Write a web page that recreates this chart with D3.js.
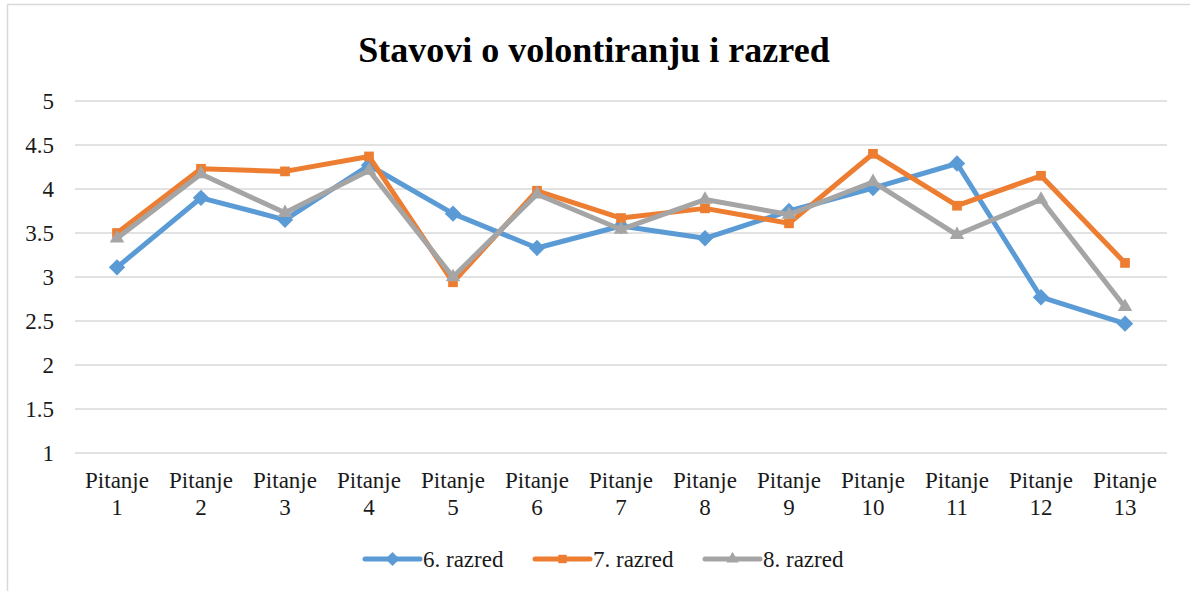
<!DOCTYPE html>
<html><head><meta charset="utf-8">
<script src="https://cdn.jsdelivr.net/npm/d3@7"></script>
<style>body{margin:0;background:#fff}</style>
</head><body><svg id="c" width="1190" height="591"></svg>
<script>
const title = "Stavovi o volontiranju i razred";
const categories = ["Pitanje 1","Pitanje 2","Pitanje 3","Pitanje 4","Pitanje 5","Pitanje 6","Pitanje 7","Pitanje 8","Pitanje 9","Pitanje 10","Pitanje 11","Pitanje 12","Pitanje 13"];
const seriesNames = ["6. razred","7. razred","8. razred"];
const razred6 = [3.11,3.90,3.65,4.27,3.72,3.33,3.58,3.44,3.75,4.01,4.29,2.77,2.47];
const razred7 = [3.50,4.23,4.20,4.37,2.94,3.98,3.67,3.78,3.61,4.40,3.81,4.15,3.16];
const razred8 = [3.44,4.17,3.73,4.21,3.00,3.94,3.54,3.88,3.71,4.08,3.48,3.88,2.66];
const yTicks = [1,1.5,2,2.5,3,3.5,4,4.5,5];

const FONT = "Liberation Serif";
const colors = ["#5B9BD5","#ED7D31","#A5A5A5"];
const symbols = [d3.symbolDiamond2, d3.symbolSquare2, d3.symbolTriangle2];
const data = [razred6, razred7, razred8];

const svg = d3.select("#c").attr("font-family", FONT);
svg.append("path").attr("d","M7.5,591 V4.5 H1190").attr("fill","none").attr("stroke","#D9D9D9").attr("stroke-width",1.5);

const x = d3.scaleBand().domain(categories).range([75,1167]);
const y = d3.scaleLinear().domain([1,5]).range([453,101]);

svg.append("text").attr("x",594).attr("y",62).attr("text-anchor","middle")
  .attr("font-family",FONT).attr("font-size",36).attr("font-weight","bold").text(title);

const grid = svg.append("g");
grid.selectAll("line").data(yTicks).join("line")
  .attr("x1",75).attr("x2",1167).attr("y1",d=>y(d)).attr("y2",d=>y(d))
  .attr("stroke","#D9D9D9").attr("stroke-width",1.5);

const yAxis = svg.append("g").attr("transform","translate(75,0)")
  .call(d3.axisLeft(y).tickValues(yTicks).tickFormat(d3.format("")).tickSize(0).tickPadding(21));
yAxis.attr("font-family",FONT).attr("font-size",23);
yAxis.select(".domain").remove();
yAxis.selectAll("text").attr("font-size",23).attr("fill","#1a1a1a").attr("font-family",FONT);

const xAxis = svg.append("g").attr("transform","translate(0,453)")
  .call(d3.axisBottom(x).tickSize(0).tickFormat(""));
xAxis.attr("font-family",FONT).attr("font-size",23);
xAxis.select(".domain").remove();
xAxis.selectAll(".tick").each(function(d){
  const parts = d.split(" ");
  const t = d3.select(this).append("text").attr("text-anchor","middle").attr("font-size",23)
    .attr("fill","#1a1a1a").attr("font-family",FONT);
  t.append("tspan").attr("x",0).attr("y",35).text(parts[0]);
  t.append("tspan").attr("x",0).attr("y",62).text(parts[1]);
});

const line = d3.line().x((d,i)=>x(categories[i])+x.bandwidth()/2).y(d=>y(d));
const symSizes = [170,120,150];
data.forEach((vals,k)=>{
  const g = svg.append("g");
  g.append("path").datum(vals).attr("d",line).attr("fill","none")
    .attr("stroke",colors[k]).attr("stroke-width",5).attr("stroke-linejoin","round");
  g.selectAll("path.m").data(vals).join("path").attr("class","m")
    .attr("transform",(d,i)=>`translate(${x(categories[i])+x.bandwidth()/2},${y(d)})`)
    .attr("d",d3.symbol().type(symbols[k]).size(symSizes[k])).attr("fill",colors[k]);
});

const legendX = [365,535,705];
const leg = svg.append("g");
seriesNames.forEach((n,k)=>{
  const g = leg.append("g").attr("transform",`translate(${legendX[k]},559)`);
  g.append("line").attr("x1",0).attr("x2",55).attr("stroke",colors[k]).attr("stroke-width",5).attr("stroke-linecap","round");
  g.append("path").attr("transform","translate(27.5,0)").attr("d",d3.symbol().type(symbols[k]).size(symSizes[k]*0.75)).attr("fill",colors[k]);
  g.append("text").attr("x",58).attr("y",8).attr("font-size",23).attr("fill","#1a1a1a").attr("font-family",FONT).text(n);
});
</script></body></html>
